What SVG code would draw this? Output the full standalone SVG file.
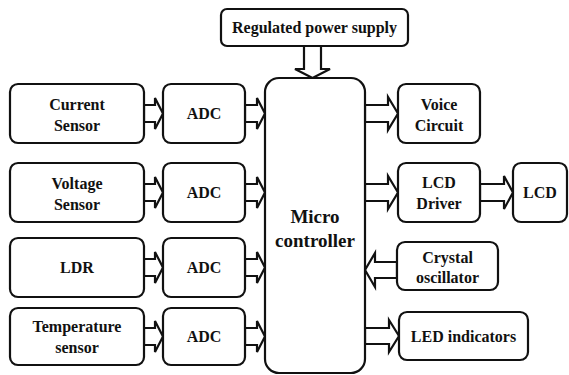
<svg xmlns="http://www.w3.org/2000/svg" width="569" height="375" viewBox="0 0 569 375">
<style>
.box{fill:#fff;stroke:#111;stroke-width:2.2}
.arr{fill:#fff;stroke:#111;stroke-width:2.2;stroke-linejoin:miter}
.t{font-family:'Liberation Serif','Times New Roman','DejaVu Serif',serif;font-weight:bold;font-size:16px;fill:#111;text-anchor:middle}
.big{font-size:19px}
</style>
<rect width="569" height="375" fill="#fff"/>
<g id="connectors">
<polygon class="arr" points="304,46 304,69 295,69 312.5,78 330,69 321,69 321,46"/>
<polygon class="arr" points="144,105 155,105 155,98 163,113.5 155,129 155,122 144,122"/>
<polygon class="arr" points="144,184 155,184 155,177 163,192.5 155,208 155,201 144,201"/>
<polygon class="arr" points="144,259 155,259 155,252 163,267.5 155,283 155,276 144,276"/>
<polygon class="arr" points="144,328 155,328 155,321 163,336.5 155,352 155,345 144,345"/>
<polygon class="arr" points="245,105 257,105 257,98 265,113.5 257,129 257,122 245,122"/>
<polygon class="arr" points="245,184 257,184 257,177 265,192.5 257,208 257,201 245,201"/>
<polygon class="arr" points="245,259 257,259 257,252 265,267.5 257,283 257,276 245,276"/>
<polygon class="arr" points="245,328 257,328 257,321 265,336.5 257,352 257,345 245,345"/>
<polygon class="arr" points="365,105 388,105 388,97 398,113.5 388,130 388,122 365,122"/>
<polygon class="arr" points="365,184 388,184 388,176 398,192.5 388,209 388,201 365,201"/>
<polygon class="arr" points="480,184 504,184 504,176 513,192.5 504,209 504,201 480,201"/>
<polygon class="arr" points="397,262 375,262 375,253 365,270 375,287 375,278 397,278"/>
<polygon class="arr" points="365,328 389,328 389,320 399,336 389,352 389,344 365,344"/>
</g>
<g id="power"><rect class="box" x="221" y="9" width="187" height="37" rx="6"/><text class="t" x="314.5" y="33">Regulated power supply</text></g>
<g id="current"><rect class="box" x="10" y="84" width="134" height="59" rx="8"/><text class="t" x="77" y="110">Current</text><text class="t" x="77" y="131">Sensor</text></g>
<g id="adc1"><rect class="box" x="163" y="84" width="82" height="59" rx="8"/><text class="t" x="204" y="119">ADC</text></g>
<g id="voltage"><rect class="box" x="10" y="163" width="134" height="59" rx="8"/><text class="t" x="77" y="189">Voltage</text><text class="t" x="77" y="210">Sensor</text></g>
<g id="adc2"><rect class="box" x="163" y="163" width="82" height="59" rx="8"/><text class="t" x="204" y="198">ADC</text></g>
<g id="ldr"><rect class="box" x="10" y="238" width="134" height="59" rx="8"/><text class="t" x="77" y="273">LDR</text></g>
<g id="adc3"><rect class="box" x="163" y="238" width="82" height="59" rx="8"/><text class="t" x="204" y="273">ADC</text></g>
<g id="temperature"><rect class="box" x="10" y="308" width="134" height="57" rx="8"/><text class="t" x="77" y="332">Temperature</text><text class="t" x="77" y="353">sensor</text></g>
<g id="adc4"><rect class="box" x="163" y="308" width="82" height="57" rx="8"/><text class="t" x="204" y="342">ADC</text></g>
<g id="mcu"><rect class="box" x="265" y="78" width="100" height="295" rx="14"/><text class="t big" x="315" y="223">Micro</text><text class="t big" x="315" y="247">controller</text></g>
<g id="voice"><rect class="box" x="398" y="84" width="82" height="59" rx="8"/><text class="t" x="439" y="110">Voice</text><text class="t" x="439" y="131">Circuit</text></g>
<g id="lcddriver"><rect class="box" x="398" y="163" width="82" height="59" rx="8"/><text class="t" x="439" y="188">LCD</text><text class="t" x="439" y="209">Driver</text></g>
<g id="lcd"><rect class="box" x="513" y="163" width="54" height="59" rx="8"/><text class="t" x="540" y="198">LCD</text></g>
<g id="crystal"><rect class="box" x="397" y="242" width="101" height="48" rx="8"/><text class="t" x="447.5" y="263">Crystal</text><text class="t" x="447.5" y="283">oscillator</text></g>
<g id="led"><rect class="box" x="399" y="312" width="129" height="48" rx="8"/><text class="t" x="463.5" y="342">LED indicators</text></g>
</svg>
